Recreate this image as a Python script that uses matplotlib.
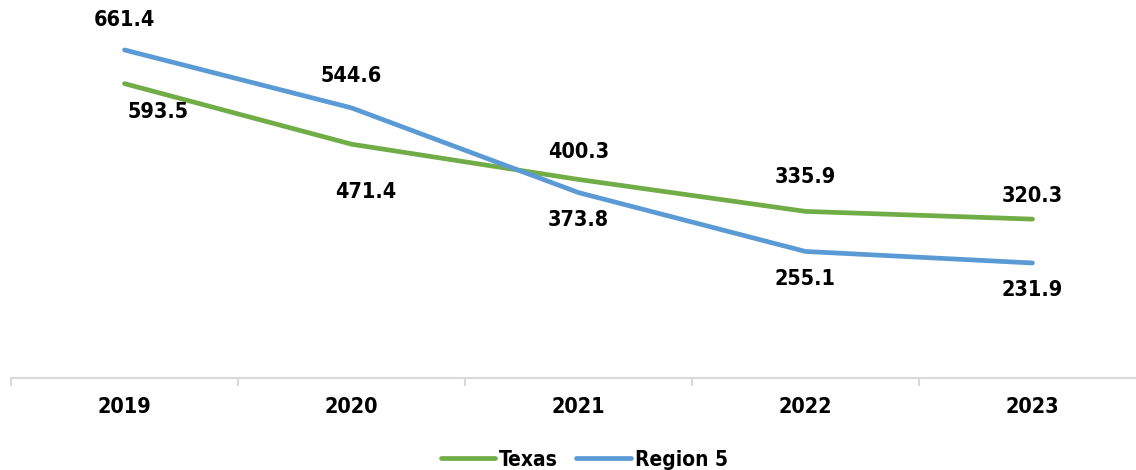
import matplotlib.pyplot as plt

# dados
years = ['2019', '2020', '2021', '2022', '2023']
texas = [593.5, 471.4, 400.3, 335.9, 320.3]
region5 = [661.4, 544.6, 373.8, 255.1, 231.9]

# deslocamento dos rotulos (pixels)
texas_off = [(34, -28), (14, -48), (0, 27), (0, 34), (0, 23)]
region5_off = [(0, 30), (0, 32), (0, -27), (0, -28), (0, -27)]

plt.rcParams['font.family'] = ['DejaVu Sans']
plt.rcParams['font.stretch'] = 'condensed'
plt.rcParams['font.weight'] = 'bold'

fig = plt.figure(figsize=(11.36, 4.70), dpi=100)
ax = fig.add_axes([11 / 1136, 92 / 470, 1135 / 1136, 347.2 / 470])

x = list(range(len(years)))
green = '#70AD47'
blue = '#5B9BD5'
ax.plot(x, texas, color=green, lw=3.4, solid_capstyle='round', label='Texas')
ax.plot(x, region5, color=blue, lw=3.4, solid_capstyle='round', label='Region 5')

for i in x:
    ax.annotate(f'{texas[i]:.1f}', (i, texas[i]), xytext=texas_off[i],
                textcoords='offset pixels', ha='center', va='center',
                fontsize=15.5, fontweight='bold')
    ax.annotate(f'{region5[i]:.1f}', (i, region5[i]), xytext=region5_off[i],
                textcoords='offset pixels', ha='center', va='center',
                fontsize=15.5, fontweight='bold')

ax.set_xlim(-0.5, 4.5)
ax.set_ylim(0, 700)
ax.set_yticks([])
ax.set_xticks(x)
ax.set_xticklabels(years, fontsize=15.5, fontweight='bold')
ax.set_xticks([i - 0.5 for i in range(6)], minor=True)
ax.tick_params(axis='x', which='major', length=0, pad=14)
ax.tick_params(axis='x', which='minor', length=6, color='#d9d9d9', width=1.5)
for s in ['top', 'right', 'left']:
    ax.spines[s].set_visible(False)
ax.spines['bottom'].set_color('#d9d9d9')
ax.spines['bottom'].set_linewidth(1.5)

leg = ax.legend(loc='center', bbox_to_anchor=(0.505, -0.235), ncol=2, frameon=False,
                fontsize=15, handlelength=2.6, handletextpad=0.2,
                columnspacing=0.9)
for t in leg.get_texts():
    t.set_fontweight('bold')

fig.savefig('out.png', dpi=100)
